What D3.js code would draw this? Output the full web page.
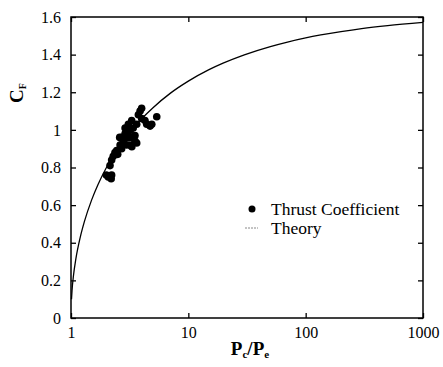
<!DOCTYPE html>
<html>
<head>
<meta charset="utf-8">
<script src="https://cdn.jsdelivr.net/npm/d3@7"></script>
<style>
  body { margin: 0; background: #fff; }
  text { font-family: "Liberation Serif", "Times New Roman", serif; fill: #000; }
</style>
</head>
<body>
<div id="chart"></div>
<script>
// Thrust coefficient vs pressure ratio

const xTicks = [1, 10, 100, 1000];
const yTicks = [0, 0.2, 0.4, 0.6, 0.8, 1, 1.2, 1.4, 1.6];

// measured points (Pc/Pe, CF)
const measRatio = [2.0, 2.08, 2.2, 2.22, 2.15, 2.29, 2.37, 2.45, 2.22, 2.62, 2.71, 2.79, 2.89, 2.89,
  2.98, 3.08, 3.08, 3.08, 3.18, 3.29, 3.29, 3.39, 3.51, 3.51, 3.63, 3.63, 3.75, 3.88, 4.0, 4.0,
  4.27, 4.42, 4.72, 4.88, 5.38, 2.5, 2.7, 3.3, 2.6, 2.85, 3.0, 3.2];
const measCF = [0.76, 0.75, 0.74, 0.76, 0.81, 0.86, 0.88, 0.89, 0.84, 0.92, 0.96, 0.94, 1.01, 0.98,
  0.92, 0.99, 1.03, 0.96, 0.92, 1.05, 0.96, 1.01, 0.97, 0.94, 1.03, 0.93, 1.08, 1.1, 1.115, 1.06,
  1.05, 1.03, 1.02, 1.03, 1.07, 0.87, 0.9, 0.91, 0.96, 0.95, 0.97, 1.0];

// theory curve
const theoryRatio = [1.01, 1.02, 1.05, 1.1, 1.2, 1.3, 1.5, 1.7, 2, 2.5, 3, 4, 5, 7, 10, 15, 20, 30, 50, 70, 100, 200, 300, 500, 1000];
const theoryCF = [0.10, 0.144, 0.226, 0.314, 0.430, 0.512, 0.628, 0.710, 0.799, 0.899, 0.968, 1.059, 1.118, 1.194, 1.259,
  1.320, 1.356, 1.399, 1.443, 1.467, 1.489, 1.522, 1.538, 1.554, 1.571];

const width = 443, height = 367;
const margin = { left: 71, right: 20, top: 17, bottom: 49 };

const svg = d3.select('#chart').append('svg')
  .attr('width', width)
  .attr('height', height);

const x = d3.scaleLog().domain([1, 1000]).range([margin.left, width - margin.right]);
const y = d3.scaleLinear().domain([0, 1.6]).range([height - margin.bottom, margin.top]);

const tickLen = 5;

// frame
svg.append('rect')
  .attr('x', x(1)).attr('y', y(1.6))
  .attr('width', x(1000) - x(1)).attr('height', y(0) - y(1.6))
  .attr('fill', 'none').attr('stroke', '#000').attr('stroke-width', 1.5);

// axes with inward ticks
const fmtY = d => d3.format('~g')(d);
svg.append('g')
  .attr('transform', `translate(${x(1)},0)`)
  .call(d3.axisLeft(y).tickValues(yTicks).tickFormat(fmtY).tickSizeInner(-tickLen).tickSizeOuter(0).tickPadding(10))
  .call(g => g.select('.domain').remove())
  .call(g => g.selectAll('.tick text').attr('font-size', 16).attr('font-family', 'Liberation Serif'));

svg.append('g')
  .attr('transform', `translate(${x(1000)},0)`)
  .call(d3.axisRight(y).tickValues(yTicks).tickFormat('').tickSizeInner(-tickLen).tickSizeOuter(0))
  .call(g => g.select('.domain').remove());

svg.append('g')
  .attr('transform', `translate(0,${y(0)})`)
  .call(d3.axisBottom(x).tickValues(xTicks).tickFormat(d3.format('d')).tickSizeInner(-tickLen).tickSizeOuter(0).tickPadding(9))
  .call(g => g.select('.domain').remove())
  .call(g => g.selectAll('.tick text').attr('font-size', 16).attr('font-family', 'Liberation Serif'));

svg.append('g')
  .attr('transform', `translate(0,${y(1.6)})`)
  .call(d3.axisTop(x).tickValues(xTicks).tickFormat('').tickSizeInner(-tickLen).tickSizeOuter(0))
  .call(g => g.select('.domain').remove());

svg.selectAll('.tick line').attr('stroke', '#000').attr('stroke-width', 1.3);

// theory curve
const theory = theoryRatio.map((r, i) => ({ r, cf: theoryCF[i] }));
svg.append('path')
  .datum(theory)
  .attr('fill', 'none')
  .attr('stroke', '#000')
  .attr('stroke-width', 1.3)
  .attr('d', d3.line().x(d => x(d.r)).y(d => y(d.cf)).curve(d3.curveMonotoneX));

// measured points
const meas = measRatio.map((r, i) => ({ r, cf: measCF[i] }));
svg.selectAll('.pt')
  .data(meas)
  .join('circle')
  .attr('class', 'pt')
  .attr('cx', d => x(d.r))
  .attr('cy', d => y(d.cf))
  .attr('r', 3.8)
  .attr('fill', '#000');

// legend
const legend = svg.append('g');
legend.append('circle').attr('cx', 252).attr('cy', 209).attr('r', 3.5).attr('fill', '#000');
legend.append('text').attr('x', 271).attr('y', 215).attr('font-size', 17.5).text('Thrust Coefficient');
legend.append('line').attr('x1', 245).attr('x2', 258).attr('y1', 228).attr('y2', 228)
  .attr('stroke', '#888').attr('stroke-width', 1).attr('stroke-dasharray', '2,1');
legend.append('text').attr('x', 271).attr('y', 234).attr('font-size', 17.5).text('Theory');

// axis titles
const xt = svg.append('text')
  .attr('x', 250).attr('y', 355)
  .attr('text-anchor', 'middle')
  .attr('font-size', 19).attr('font-weight', 'bold');
xt.append('tspan').text('P');
xt.append('tspan').attr('font-size', 11).attr('dy', 3).text('c');
xt.append('tspan').attr('dy', -3).text('/P');
xt.append('tspan').attr('font-size', 11).attr('dy', 3).text('e');

const yt = svg.append('text')
  .attr('transform', 'translate(23,93) rotate(-90)')
  .attr('text-anchor', 'middle')
  .attr('font-size', 19).attr('font-weight', 'bold');
yt.append('tspan').text('C');
yt.append('tspan').attr('font-size', 10).attr('dy', 3).text('F');
</script>
</body>
</html>
